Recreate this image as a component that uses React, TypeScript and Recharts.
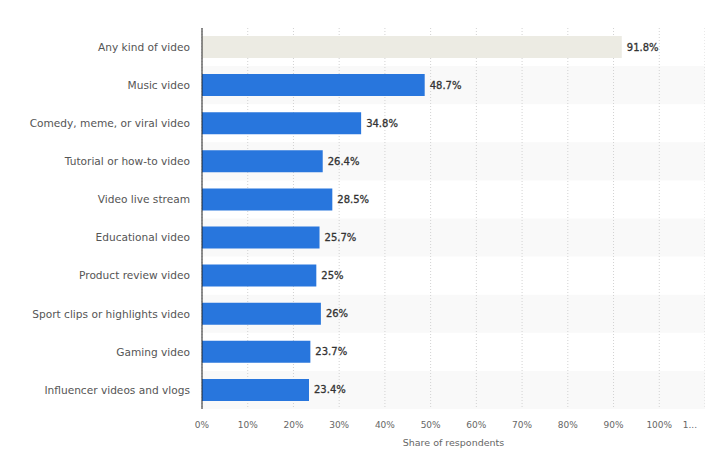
import React from "react";
import {
  BarChart,
  Bar,
  XAxis,
  YAxis,
  CartesianGrid,
  Cell,
  LabelList,
  ReferenceArea,
} from "recharts";

const categories = [
  "Any kind of video",
  "Music video",
  "Comedy, meme, or viral video",
  "Tutorial or how-to video",
  "Video live stream",
  "Educational video",
  "Product review video",
  "Sport clips or highlights video",
  "Gaming video",
  "Influencer videos and vlogs",
];

const shares = [91.8, 48.7, 34.8, 26.4, 28.5, 25.7, 25, 26, 23.7, 23.4];

const xTicks = [0, 10, 20, 30, 40, 50, 60, 70, 80, 90, 100, 110];

const data = categories.map((name, i) => ({ name, value: shares[i] }));

const FONT = "'DejaVu Sans', Verdana, sans-serif";

const XTick = (props: any) => {
  const { x, y, payload } = props;
  const last = payload.value === 110;
  return (
    <text
      x={last ? x - 8 : x}
      y={y}
      dy="0.71em"
      textAnchor={last ? "end" : "middle"}
      fill="#666"
      fontSize={9}
      fontFamily={FONT}
    >
      {last ? "1..." : `${payload.value}%`}
    </text>
  );
};

export default function App() {
  return (
    <div style={{ position: "absolute", left: 0, top: 0, background: "#fff" }}>
      <BarChart
        width={705}
        height={459}
        data={data}
        layout="vertical"
        margin={{ top: 28, right: 0, bottom: 0, left: 0 }}
        barSize={22}
      >
        {categories.map((c, i) =>
          i % 2 === 1 ? (
            <ReferenceArea
              key={c}
              y1={c}
              y2={c}
              fill="#f9f9f9"
              fillOpacity={1}
              stroke="none"
              ifOverflow="visible"
              zIndex={-200}
            />
          ) : null
        )}
        <CartesianGrid
          horizontal={false}
          stroke="#d2d2d2"
          strokeDasharray="1 2"
        />
        <XAxis
          type="number"
          domain={[0, 110]}
          ticks={xTicks}
          height={50}
          axisLine={false}
          tickLine={false}
          tickSize={0}
          tickMargin={13}
          tick={<XTick />}
          interval={0}
          label={{
            value: "Share of respondents",
            position: "insideBottom",
            offset: 13,
            fill: "#666",
            fontSize: 9.5,
            fontFamily: FONT,
          }}
        />
        <YAxis
          type="category"
          dataKey="name"
          width={202}
          axisLine={{ stroke: "#222", strokeWidth: 1 }}
          tickLine={false}
          tickSize={0}
          tickMargin={12}
          interval={0}
          tick={{ fill: "#555", fontSize: 10.6, fontFamily: FONT }}
        />
        <Bar dataKey="value" isAnimationActive={false}>
          {data.map((d, i) => (
            <Cell key={d.name} fill={i === 0 ? "#ecebe3" : "#2876dd"} />
          ))}
          <LabelList
            dataKey="value"
            position="right"
            offset={5}
            formatter={(v: any) => `${v}%`}
            fill="#333"
            stroke="#333"
            strokeWidth={0.3}
            fontSize={10}
            fontFamily={FONT}
          />
        </Bar>
      </BarChart>
    </div>
  );
}
